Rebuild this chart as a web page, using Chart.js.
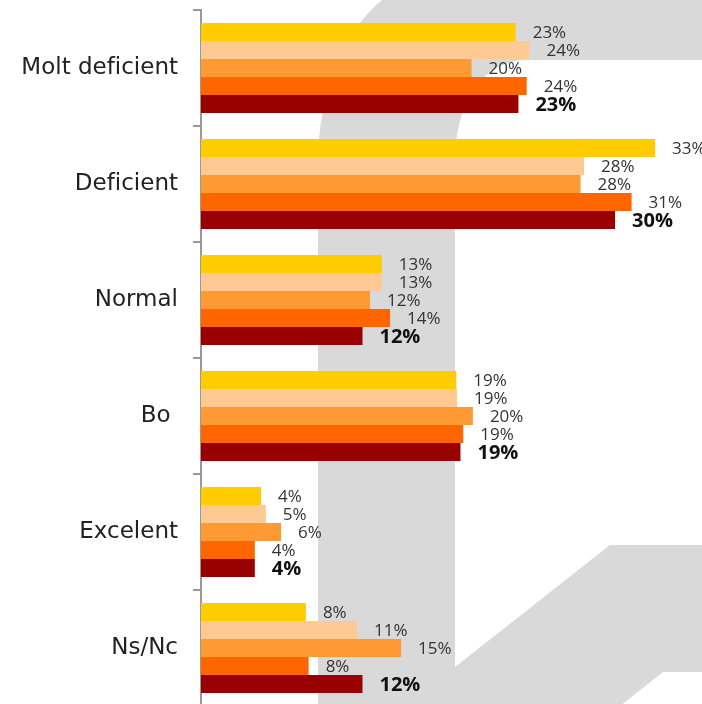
<!DOCTYPE html>
<html lang="ca">
<head>
  <meta charset="UTF-8">
  <title>Valoració</title>
  <script src="https://cdn.jsdelivr.net/npm/chart.js"></script>
  <style>
    body {
      margin: 0;
      overflow: hidden;
      background: #fff;
    }
    #chart-container {
      width: 702px;
      height: 706px;
    }
  </style>
</head>
<body>
  <div id="chart-container">
    <canvas id="barChart" width="702" height="706"></canvas>
  </div>
  <script>
    const categories = ["Molt deficient", "Deficient", "Normal", "Bo ", "Excelent", "Ns/Nc"];

    // valors (%) llegits de la llargada de les barres
    const serie1 = [22.8, 32.9, 13.1, 18.5, 4.35, 7.6];
    const serie2 = [23.8, 27.75, 13.1, 18.55, 4.7, 11.3];
    const serie3 = [19.6, 27.5, 12.25, 19.7, 5.8, 14.5];
    const serie4 = [23.6, 31.2, 13.7, 19.0, 3.9, 7.8];
    const serie5 = [23.0, 30.0, 11.7, 18.8, 3.9, 11.7];

    const colors = ["#FFCC00", "#FFC993", "#FF9933", "#FF6600", "#990000"];

    // fons: marca d'aigua grisa
    const watermark = {
      id: "watermark",
      beforeDraw(chart) {
        const ctx = chart.ctx;
        ctx.save();
        ctx.fillStyle = "#d9d9d9";
        ctx.beginPath();
        ctx.moveTo(318, 706);
        ctx.lineTo(318, 165);
        ctx.bezierCurveTo(318, 90, 345, 30, 382, 0);
        ctx.lineTo(702, 0);
        ctx.lineTo(702, 60);
        ctx.lineTo(525, 60);
        ctx.bezierCurveTo(480, 62, 455, 105, 455, 165);
        ctx.lineTo(455, 667);
        ctx.lineTo(610, 545);
        ctx.lineTo(702, 545);
        ctx.lineTo(702, 672);
        ctx.lineTo(663, 672);
        ctx.lineTo(620, 706);
        ctx.closePath();
        ctx.fill();
        ctx.restore();
      }
    };

    // etiquetes de valor al final de cada barra
    const valueLabels = {
      id: "valueLabels",
      afterDatasetsDraw(chart) {
        const ctx = chart.ctx;
        ctx.save();
        ctx.textBaseline = "middle";
        ctx.textAlign = "left";
        chart.data.datasets.forEach((ds, i) => {
          const meta = chart.getDatasetMeta(i);
          const last = i === chart.data.datasets.length - 1;
          ctx.font = last ? "bold 20px 'Open Sans'" : "17px 'Open Sans'";
          ctx.fillStyle = last ? "#111" : "#333";
          meta.data.forEach((bar, j) => {
            ctx.fillText(Math.round(ds.data[j]) + "%", bar.x + 17, bar.y + 1);
          });
        });
        ctx.restore();
      }
    };

    const ctx = document.getElementById("barChart").getContext("2d");

    new Chart(ctx, {
      type: "bar",
      data: {
        labels: categories,
        datasets: [serie1, serie2, serie3, serie4, serie5].map((d, i) => ({
          label: "Sèrie " + (i + 1),
          data: d,
          backgroundColor: colors[i],
          borderWidth: 0,
          barPercentage: 1,
          categoryPercentage: 0.776
        }))
      },
      options: {
        indexAxis: "y",
        responsive: false,
        animation: false,
        layout: {
          padding: { top: 10, right: 0, bottom: 0, left: 0 }
        },
        plugins: {
          legend: { display: false },
          tooltip: { enabled: false }
        },
        scales: {
          x: {
            display: false,
            min: 0,
            max: 36.3
          },
          y: {
            afterFit(scale) {
              scale.width = 201;
              scale.paddingTop = 0;
              scale.paddingBottom = 0;
            },
            border: { color: "#999", width: 2 },
            grid: {
              offset: true,
              drawOnChartArea: false,
              tickLength: 8,
              color: "#999",
              lineWidth: 2
            },
            ticks: {
              padding: 15,
              color: "#222",
              font: { family: "'DejaVu Sans'", size: 23 }
            }
          }
        }
      },
      plugins: [watermark, valueLabels]
    });
  </script>
</body>
</html>
